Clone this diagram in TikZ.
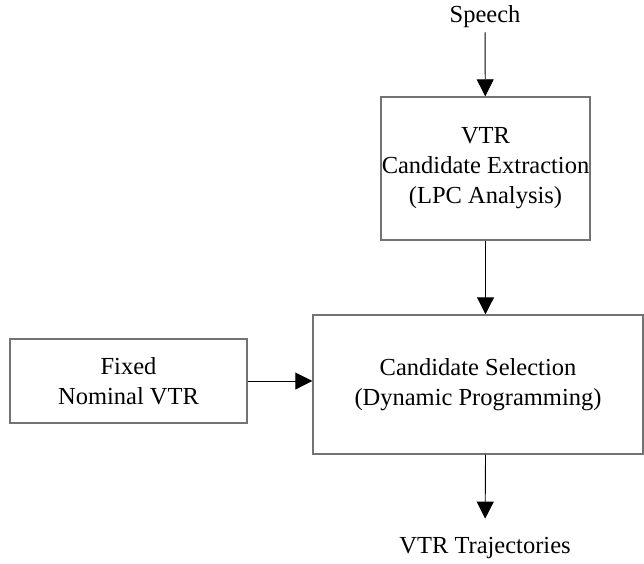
\documentclass[tikz,border=0pt]{standalone}
\usepackage{fontspec}
\setmainfont{Liberation Serif}
\usetikzlibrary{arrows.meta}
\begin{document}
\begin{tikzpicture}[x=1pt,y=-1pt,
  box/.style={draw=black!55, line width=1.4pt, inner sep=0pt, align=center,
    font=\fontsize{24.5pt}{30pt}\selectfont},
  lbl/.style={inner sep=0pt, font=\fontsize{24.5pt}{30pt}\selectfont},
  conn/.style={line width=0.9pt, -{Triangle[length=17pt,width=17pt]}}]
\useasboundingbox (0,0) rectangle (644,563);
\node[lbl, anchor=base] (sp) at (485,22) {Speech};
\node[box, minimum width=209pt, minimum height=143pt] (b1) at (485.5,168.5)
  {VTR\\Candidate Extraction\\(LPC Analysis)};
\node[box, minimum width=330pt, minimum height=139pt] (b2) at (478,384.5)
  {Candidate Selection\\(Dynamic Programming)};
\node[box, minimum width=237pt, minimum height=84pt] (b3) at (128.5,381)
  {Fixed\\Nominal VTR};
\node[lbl, anchor=base] (vt) at (485,553) {VTR Trajectories};
\draw[conn, shorten <=5pt] (sp) -- (b1);
\draw[conn] (b1) -- (b2.north -| b1.south);
\draw[conn] (b3) -- (b2.west |- b3.east);
\draw[conn, shorten >=18pt] (b2.south -| b1.south) -- (vt);
\end{tikzpicture}
\end{document}
